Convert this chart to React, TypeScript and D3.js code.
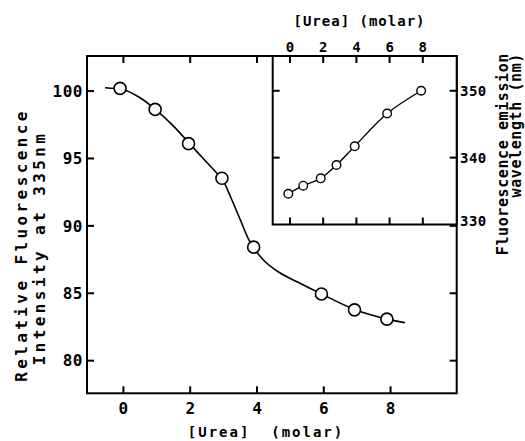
import React, { useEffect, useRef } from 'react';
import * as d3 from 'd3';

// main plot: fluorescence intensity vs urea
const ureaMain = [-0.1, 0.95, 1.95, 2.95, 3.9, 5.93, 6.92, 7.89];
const intensity = [100.2, 98.64, 96.1, 93.53, 88.42, 84.95, 83.77, 83.08];
// fitted line
const fitMainX = [-0.55, 0, 0.5, 1, 1.5, 2, 2.5, 2.8, 3.0, 3.2, 3.5, 3.75, 3.95, 4.2, 4.6, 5.2, 5.93, 6.92, 7.4, 7.89, 8.43];
const fitMainY = [100.25, 100.1, 99.5, 98.55, 97.4, 96.05, 94.7, 93.9, 93.3, 92.2, 90.45, 89.0, 88.2, 87.45, 86.65, 85.85, 84.95, 83.8, 83.4, 83.08, 82.82];
const mainXTicks = [0, 2, 4, 6, 8];
const mainYTicks = [80, 85, 90, 95, 100];

// inset: emission wavelength vs urea
const ureaInset = [-0.1, 0.8, 1.85, 2.8, 3.9, 5.85, 7.9];
const wavelength = [334.6, 335.8, 336.9, 338.9, 341.7, 346.6, 350];
const insetXTicks = [0, 2, 4, 6, 8];
const insetYTicks = [330, 340, 350];

const FONT = '"DejaVu Sans Mono", monospace';

export default function App() {
  const svgRef = useRef<SVGSVGElement>(null);

  useEffect(() => {
    const svg = d3.select(svgRef.current);
    svg.selectAll('*').remove();

    const left = 87, right = 456.7, top = 56, bottom = 393.3;
    const x = d3.scaleLinear().domain([-1.09, 9.98]).range([left, right]);
    const y = d3.scaleLinear().domain([77.58, 102.6]).range([bottom, top]);

    const insLeft = 272.7, insBottom = 224.5;
    const xi = d3.scaleLinear().domain([-1.04, 10.04]).range([insLeft, right]);
    const yi = d3.scaleLinear().domain([330, 355.2]).range([insBottom, top]);

    const g = svg.append('g').attr('font-family', FONT).attr('font-weight', 'bold').attr('fill', '#000');

    // main frame
    g.append('rect')
      .attr('x', left).attr('y', top)
      .attr('width', right - left).attr('height', bottom - top)
      .attr('fill', 'none').attr('stroke', '#000').attr('stroke-width', 2);

    const tick = 7;
    // bottom ticks + labels
    mainXTicks.forEach((t) => {
      g.append('line').attr('x1', x(t)).attr('x2', x(t)).attr('y1', bottom).attr('y2', bottom - tick)
        .attr('stroke', '#000').attr('stroke-width', 2);
      g.append('text').attr('x', x(t)).attr('y', 414).attr('text-anchor', 'middle')
        .attr('font-size', 16).text(t);
    });
    // top ticks of main (left of the inset)
    mainXTicks.filter((t) => x(t) < insLeft).forEach((t) => {
      g.append('line').attr('x1', x(t)).attr('x2', x(t)).attr('y1', top).attr('y2', top + tick)
        .attr('stroke', '#000').attr('stroke-width', 2);
    });
    // left / right ticks
    mainYTicks.forEach((t) => {
      g.append('line').attr('x1', left).attr('x2', left + tick).attr('y1', y(t)).attr('y2', y(t))
        .attr('stroke', '#000').attr('stroke-width', 2);
      g.append('line').attr('x1', right).attr('x2', right - tick).attr('y1', y(t)).attr('y2', y(t))
        .attr('stroke', '#000').attr('stroke-width', 2);
      g.append('text').attr('x', 83).attr('y', y(t)).attr('dy', '0.36em').attr('text-anchor', 'end')
        .attr('font-size', 16).attr('letter-spacing', 0.5).text(t);
    });

    // fitted curve main
    const fitMain = fitMainX.map((v, i) => [v, fitMainY[i]] as [number, number]);
    const lineMain = d3.line<[number, number]>().x((d) => x(d[0])).y((d) => y(d[1])).curve(d3.curveMonotoneX);
    g.append('path').attr('d', lineMain(fitMain)).attr('fill', 'none').attr('stroke', '#000').attr('stroke-width', 1.6);

    g.selectAll('.pt-main')
      .data(ureaMain.map((v, i) => [v, intensity[i]]))
      .join('circle')
      .attr('class', 'pt-main')
      .attr('cx', (d) => x(d[0])).attr('cy', (d) => y(d[1])).attr('r', 6)
      .attr('fill', '#fff').attr('stroke', '#000').attr('stroke-width', 1.6);

    // inset frame
    g.append('rect')
      .attr('x', insLeft).attr('y', top)
      .attr('width', right - insLeft).attr('height', insBottom - top)
      .attr('fill', '#fff').attr('stroke', '#000').attr('stroke-width', 2);

    insetXTicks.forEach((t) => {
      g.append('line').attr('x1', xi(t)).attr('x2', xi(t)).attr('y1', top).attr('y2', top + tick)
        .attr('stroke', '#000').attr('stroke-width', 2);
      g.append('line').attr('x1', xi(t)).attr('x2', xi(t)).attr('y1', insBottom).attr('y2', insBottom - tick)
        .attr('stroke', '#000').attr('stroke-width', 2);
      g.append('text').attr('x', xi(t)).attr('y', 51.5).attr('text-anchor', 'middle')
        .attr('font-size', 14).text(t);
    });
    insetYTicks.forEach((t) => {
      if (t > 330) {
        g.append('line').attr('x1', insLeft).attr('x2', insLeft + tick).attr('y1', yi(t)).attr('y2', yi(t))
          .attr('stroke', '#000').attr('stroke-width', 2);
        g.append('line').attr('x1', right).attr('x2', right - tick).attr('y1', yi(t)).attr('y2', yi(t))
          .attr('stroke', '#000').attr('stroke-width', 2);
      }
      g.append('text').attr('x', 460).attr('y', yi(t)).attr('dy', t === 330 ? '0.1em' : '0.36em')
        .attr('font-size', 14).attr('letter-spacing', 0.5).text(t);
    });

    const lineInset = d3.line<[number, number]>().x((d) => xi(d[0])).y((d) => yi(d[1])).curve(d3.curveCatmullRom);
    const insetPts = ureaInset.map((v, i) => [v, wavelength[i]] as [number, number]);
    g.append('path').attr('d', lineInset(insetPts)).attr('fill', 'none').attr('stroke', '#000').attr('stroke-width', 1.4);
    g.selectAll('.pt-inset')
      .data(insetPts)
      .join('circle')
      .attr('class', 'pt-inset')
      .attr('cx', (d) => xi(d[0])).attr('cy', (d) => yi(d[1])).attr('r', 4.3)
      .attr('fill', '#fff').attr('stroke', '#000').attr('stroke-width', 1.4);

    // axis titles
    g.append('text').attr('x', 266).attr('y', 437).attr('text-anchor', 'middle')
      .attr('font-size', 14).attr('letter-spacing', 2).attr('xml:space', 'preserve').text('[Urea]  (molar)');
    g.append('text').attr('x', 359.5).attr('y', 26).attr('text-anchor', 'middle')
      .attr('font-size', 14).attr('letter-spacing', 1).text('[Urea] (molar)');

    g.append('text').attr('transform', 'translate(27,245) rotate(-90)').attr('text-anchor', 'middle')
      .attr('font-size', 16).attr('letter-spacing', 3.4).text('Relative Fluorescence');
    g.append('text').attr('transform', 'translate(45,248) rotate(-90)').attr('text-anchor', 'middle')
      .attr('font-size', 16).attr('letter-spacing', 3.4).text('Intensity at 335nm');

    g.append('text').attr('transform', 'translate(508,53) rotate(-90)').attr('text-anchor', 'end')
      .attr('font-size', 15).attr('letter-spacing', 0.6).text('Fluorescence emission');
    g.append('text').attr('transform', 'translate(521,53) rotate(-90)').attr('text-anchor', 'end')
      .attr('font-size', 15).attr('letter-spacing', 0.6).text('wavelength (nm)');
  }, []);

  return (
    <svg ref={svgRef} width={525} height={441}
      style={{ position: 'absolute', left: 0, top: 0, background: '#fff' }} />
  );
}
